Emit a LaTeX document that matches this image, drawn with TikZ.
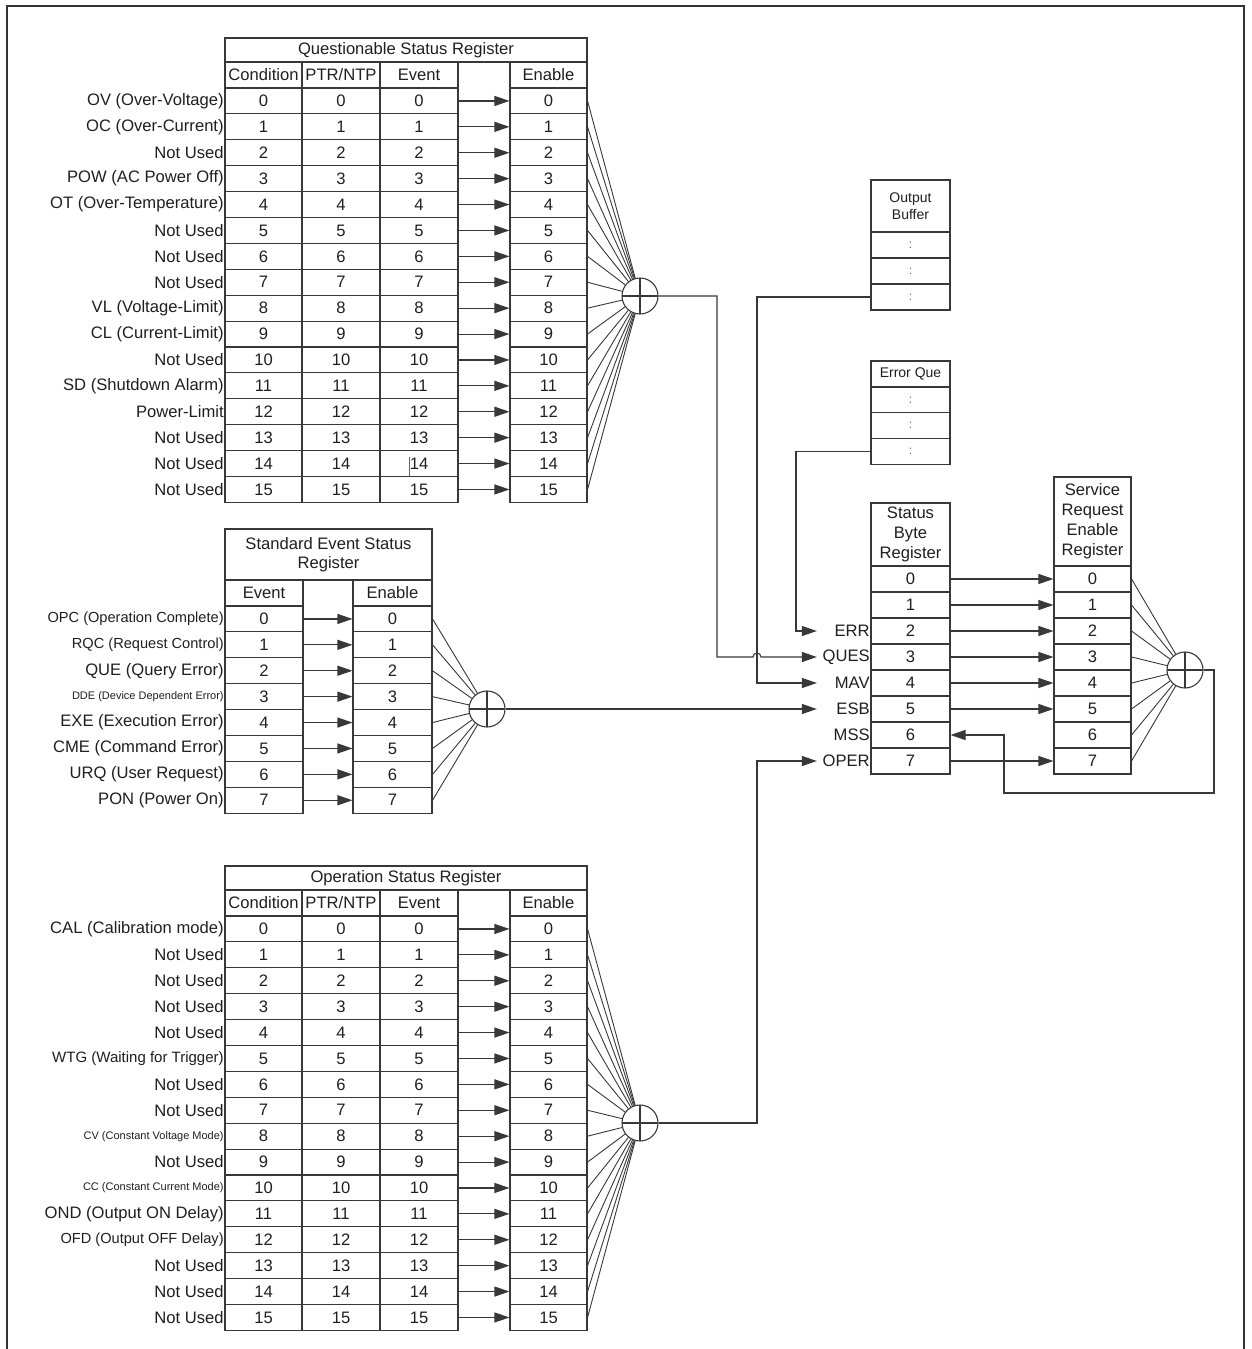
\documentclass[tikz,border=0pt]{standalone}
\usepackage{fontspec}
\setmainfont{Liberation Sans}
\usetikzlibrary{arrows.meta,calc}

\tikzset{
	cell/.style={draw=black!78,line width=1.1pt,inner sep=0pt,minimum height=25.9pt,text=black!88,font=\fontsize{16.6}{19}\selectfont},
	regtitle/.style={cell,align=center},
	lbl/.style={anchor=east,inner sep=0.6pt,text=black!88,font=\fontsize{16.6}{19}\selectfont},
	dots/.style={cell,minimum width=79pt,minimum height=26pt,text=black!60,font=\fontsize{12}{12}\selectfont},
	sig/.style={draw=black!78,line width=1.1pt,-{Triangle[length=15pt,width=10pt]}},
	wire/.style={draw=black!78,line width=0.9pt},
	sum/.style={circle,draw=black!78,line width=1.1pt,minimum size=36pt,inner sep=0pt,
		path picture={\draw[black!78,line width=1.1pt] (path picture bounding box.north) -- (path picture bounding box.south)
			(path picture bounding box.west) -- (path picture bounding box.east);}}
}

\begin{document}
\begin{tikzpicture}[x=1pt,y=-1pt]
	\def\rh{25.9}
	\useasboundingbox (0,0) rectangle (1251,1349);
	\draw[line width=2pt,black!80] (7,1349) -- (7,6) -- (1244,6) -- (1244,1349);

	% Questionable Status Register
	\node[regtitle,minimum width=362pt,minimum height=24pt] (qtitle) at (406,50) {Questionable Status Register};
	\node[cell,minimum width=77pt,minimum height=26pt] (qhc) at (263.5,75) {Condition};
	\node[cell,minimum width=78pt,minimum height=26pt] (qhp) at (341,75) {PTR/NTP};
	\node[cell,minimum width=78pt,minimum height=26pt] (qhe) at (419,75) {Event};
	\node[cell,minimum width=77pt,minimum height=26pt] (qhn) at (548.5,75) {Enable};
	\foreach \i/\txt/\lsz in {0/OV (Over-Voltage)/16.6, 1/OC (Over-Current)/16.6, 2/Not Used/16.6,
		3/POW (AC Power Off)/16.6, 4/OT (Over-Temperature)/16.6, 5/Not Used/16.6, 6/Not Used/16.6,
		7/Not Used/16.6, 8/VL (Voltage-Limit)/16.6, 9/CL (Current-Limit)/16.6, 10/Not Used/16.6,
		11/SD (Shutdown Alarm)/16.6, 12/Power-Limit/16.6, 13/Not Used/16.6, 14/Not Used/16.6, 15/Not Used/16.6}{
		\pgfmathsetmacro\ry{88+\rh*(\i+0.5)}
		\node[cell,minimum width=77pt] (qc\i) at (263.5,\ry) {\i};
		\node[cell,minimum width=78pt] (qp\i) at (341,\ry) {\i};
		\node[cell,minimum width=78pt] (qe\i) at (419,\ry) {\i};
		\node[cell,minimum width=77pt] (qn\i) at (548.5,\ry) {\i};
		\node[lbl,font=\fontsize{\lsz}{\lsz}\selectfont] (ql\i) at (qc\i.west) {\txt};
		\draw[sig] (qe\i.east) -- (qn\i.west);
	}
	\draw[black!60,line width=0.8pt] (409,457) -- (409,476);
	\node[sum] (qsum) at (640,296) {};
	\foreach \i in {0,...,15} \draw[wire] (qn\i.east) -- (qsum);

	% Standard Event Status Register
	\node[regtitle,minimum width=207pt,minimum height=51pt] (stitle) at (328.5,554.5) {Standard Event Status\\Register};
	\node[cell,minimum width=78pt,minimum height=26pt] (she) at (264,593) {Event};
	\node[cell,minimum width=79pt,minimum height=26pt] (shn) at (392.5,593) {Enable};
	\foreach \i/\txt/\lsz in {0/OPC (Operation Complete)/14.6, 1/RQC (Request Control)/14.6, 2/QUE (Query Error)/16.6,
		3/DDE (Device Dependent Error)/11, 4/EXE (Execution Error)/16.6, 5/CME (Command Error)/16.6,
		6/URQ (User Request)/16.6, 7/PON (Power On)/16.6}{
		\pgfmathsetmacro\ry{606+\rh*(\i+0.5)}
		\node[cell,minimum width=78pt] (se\i) at (264,\ry) {\i};
		\node[cell,minimum width=79pt] (sn\i) at (392.5,\ry) {\i};
		\node[lbl,font=\fontsize{\lsz}{\lsz}\selectfont] (sl\i) at (se\i.west) {\txt};
		\draw[sig] (se\i.east) -- (sn\i.west);
	}
	\node[sum] (ssum) at (487,709) {};
	\foreach \i in {0,...,7} \draw[wire] (sn\i.east) -- (ssum);

	% Operation Status Register
	\node[regtitle,minimum width=362pt,minimum height=24pt] (otitle) at (406,878) {Operation Status Register};
	\node[cell,minimum width=77pt,minimum height=26pt] (ohc) at (263.5,903) {Condition};
	\node[cell,minimum width=78pt,minimum height=26pt] (ohp) at (341,903) {PTR/NTP};
	\node[cell,minimum width=78pt,minimum height=26pt] (ohe) at (419,903) {Event};
	\node[cell,minimum width=77pt,minimum height=26pt] (ohn) at (548.5,903) {Enable};
	\foreach \i/\txt/\lsz in {0/CAL (Calibration mode)/16.6, 1/Not Used/16.6, 2/Not Used/16.6,
		3/Not Used/16.6, 4/Not Used/16.6, 5/WTG (Waiting for Trigger)/15, 6/Not Used/16.6,
		7/Not Used/16.6, 8/CV (Constant Voltage Mode)/11, 9/Not Used/16.6, 10/CC (Constant Current Mode)/11,
		11/OND (Output ON Delay)/16.6, 12/OFD (Output OFF Delay)/14.6, 13/Not Used/16.6, 14/Not Used/16.6, 15/Not Used/16.6}{
		\pgfmathsetmacro\ry{916+\rh*(\i+0.5)}
		\node[cell,minimum width=77pt] (oc\i) at (263.5,\ry) {\i};
		\node[cell,minimum width=78pt] (op\i) at (341,\ry) {\i};
		\node[cell,minimum width=78pt] (oe\i) at (419,\ry) {\i};
		\node[cell,minimum width=77pt] (on\i) at (548.5,\ry) {\i};
		\node[lbl,font=\fontsize{\lsz}{\lsz}\selectfont] (ol\i) at (oc\i.west) {\txt};
		\draw[sig] (oe\i.east) -- (on\i.west);
	}
	\node[sum] (osum) at (640,1123) {};
	\foreach \i in {0,...,15} \draw[wire] (on\i.east) -- (osum);

	% Output Buffer and Error Que
	\node[regtitle,minimum width=79pt,minimum height=52pt,font=\fontsize{14}{17}\selectfont] (obt) at (910.5,206) {Output\\Buffer};
	\foreach \i in {1,2,3} \node[dots] (ob\i) at (910.5,{232+26*(\i-0.5)}) {:};
	\node[regtitle,minimum width=79pt,minimum height=26pt,font=\fontsize{14}{17}\selectfont] (eqt) at (910.5,374) {Error Que};
	\foreach \i in {1,2,3} \node[dots,minimum height=25.7pt] (eq\i) at (910.5,{387+25.7*(\i-0.5)}) {:};

	% Status Byte and Service Request Enable
	\node[regtitle,minimum width=79pt,minimum height=63pt,font=\fontsize{16.6}{20}\selectfont] (btitle) at (910.5,534.5) {Status\\Byte\\Register};
	\node[regtitle,minimum width=77pt,minimum height=89pt,font=\fontsize{16.6}{20}\selectfont] (rtitle) at (1092.5,521.5) {Service\\Request\\Enable\\Register};
	\foreach \i in {0,...,7}{
		\node[cell,minimum width=79pt,minimum height=26pt] (b\i) at (910.5,{566+26*(\i+0.5)}) {\i};
		\node[cell,minimum width=77pt,minimum height=26pt] (r\i) at (1092.5,{566+26*(\i+0.5)}) {\i};
	}
	\foreach \i/\txt in {2/ERR,3/QUES,4/MAV,5/ESB,6/MSS,7/OPER}
		\node[lbl,text width=52pt,align=right] (bl\i) at (b\i.west) {\txt};
	\foreach \i in {0,1,2,3,4,5,7} \draw[sig] (b\i.east) -- (r\i.west);
	\node[sum] (rsum) at (1185,670) {};
	\foreach \i in {0,...,7} \draw[wire] (r\i.east) -- (rsum);
	\coordinate (fbr) at (1214,793);
	\coordinate (fbl) at (1004,793);
	\draw[sig] (rsum.east) -| (fbr) -- (fbl) |- (b6.east);

	% summary lines into the status byte
	\coordinate (quesx) at (717,657);
	\coordinate (mavx) at (757,683);
	\coordinate (errx) at (796,631);
	\coordinate (operx) at (757,761);
	\draw[sig] (eq3.west) -| (errx) -- (bl2.west);
	\draw[sig] (ob3.west) -| (mavx) -- (bl4.west);
	\draw[sig] (qsum.east) -| (quesx) -- ($(mavx|-quesx)+(-4,0)$) arc[start angle=180,end angle=0,radius=4pt] -- (bl3.west);
	\draw[sig] (ssum.east) -- (bl5.west);
	\draw[sig] (osum.east) -| (operx) -- (bl7.west);
\end{tikzpicture}
\end{document}
